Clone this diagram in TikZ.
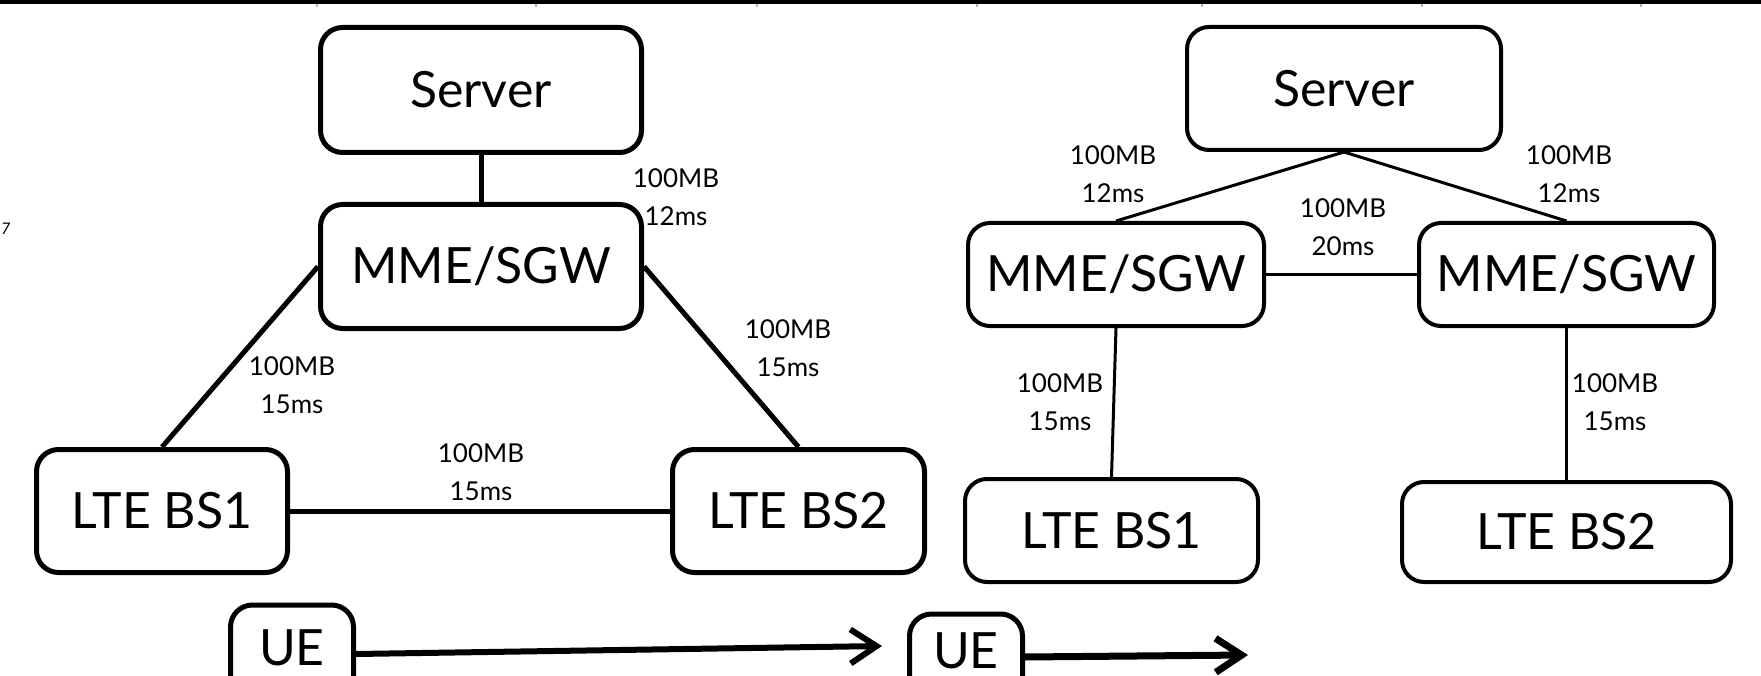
\documentclass[tikz,border=0pt]{standalone}
\usepackage{fontspec}
\setmainfont{Lato}
\usetikzlibrary{arrows.meta}
\begin{document}
\begin{tikzpicture}[x=1pt,y=-1pt,
 box/.style={draw, line width=5pt, rounded corners=22pt, inner sep=0pt, font=\fontsize{50}{60}\selectfont},
 rbox/.style={box, line width=4pt},
 uebox/.style={box, text height=36pt, text depth=14pt},
 lbl/.style={align=center, font=\fontsize{26}{38}\selectfont, inner sep=0pt},
 thicklink/.style={line width=5pt},
 thinlink/.style={line width=3pt},
 uearrow/.style={line width=6pt, -{Straight Barb[length=26pt,width=34pt]}},
]
\useasboundingbox (0,0) rectangle (1761,676);
\clip (0,0) rectangle (1761,676);
% top bar
\fill (0,0) rectangle (1761,4);
\foreach \t in {317,536,757,977,1202,1422,1641}
  \draw[gray!60, line width=1.5pt] (\t,4) -- (\t,7);
\node[anchor=west, inner sep=0pt, font=\fontsize{16}{20}\selectfont\itshape] (frag) at (1,229) {7};

% left diagram
\node[box, minimum width=321pt, minimum height=125pt] (Ls) at (481,90) {Server};
\node[box, minimum width=321pt, minimum height=124pt] (Lm) at (481,266.5) {MME/SGW};
\node[box, minimum width=251pt, minimum height=123pt] (Lb1) at (162,511) {LTE BS1};
\node[box, minimum width=252pt, minimum height=123pt] (Lb2) at (798.5,511) {LTE BS2};

\draw[thicklink] (Ls.south) -- (Lm.north);
\draw[thicklink] (Lm.west) -- (Lb1.north);
\draw[thicklink] (Lm.east) -- (Lb2.north);
\draw[thicklink] (Lb1.east) -- (Lb2.west);

\node[lbl] (l1) at (676,197) {100MB\\12ms};
\node[lbl] (l2) at (292,385) {100MB\\15ms};
\node[lbl] (l3) at (788,348) {100MB\\15ms};
\node[lbl] (l4) at (481,472) {100MB\\15ms};

% right diagram
\node[rbox, minimum width=314pt, minimum height=123pt] (Rs) at (1344,88.5) {Server};
\node[rbox, minimum width=296pt, minimum height=103pt] (Rm1) at (1116,274.5) {MME/SGW};
\node[rbox, minimum width=295pt, minimum height=103pt] (Rm2) at (1566.5,274.5) {MME/SGW};
\node[rbox, minimum width=293pt, minimum height=103pt] (Rb1) at (1111.5,530.5) {LTE BS1};
\node[rbox, minimum width=329pt, minimum height=100pt] (Rb2) at (1566.5,532) {LTE BS2};

\draw[thinlink] (Rs.south) -- (Rm1.north);
\draw[thinlink] (Rs.south) -- (Rm2.north);
\draw[thinlink] (Rm1.east) -- (Rm2.west);
\draw[thinlink] (Rm1.south) -- (Rb1.north);
\draw[thinlink] (Rm2.south) -- (Rb2.north);

\node[lbl] (r1) at (1113,174) {100MB\\12ms};
\node[lbl] (r2) at (1569,174) {100MB\\12ms};
\node[lbl] (r3) at (1343,227) {100MB\\20ms};
\node[lbl] (r4) at (1060,402) {100MB\\15ms};
\node[lbl] (r5) at (1615,402) {100MB\\15ms};

% UE row
\node[uebox, minimum width=123pt, minimum height=98pt] (UEl) at (292,654) {UE};
\node[uebox, minimum width=113pt, minimum height=86pt] (UEr) at (966,657) {UE};
\coordinate (al) at (882,646);
\coordinate (ar) at (1248,655);
\draw[uearrow] (UEl.east) -- (al);
\draw[uearrow, line width=7pt] (UEr.east) -- (ar);
\end{tikzpicture}
\end{document}
